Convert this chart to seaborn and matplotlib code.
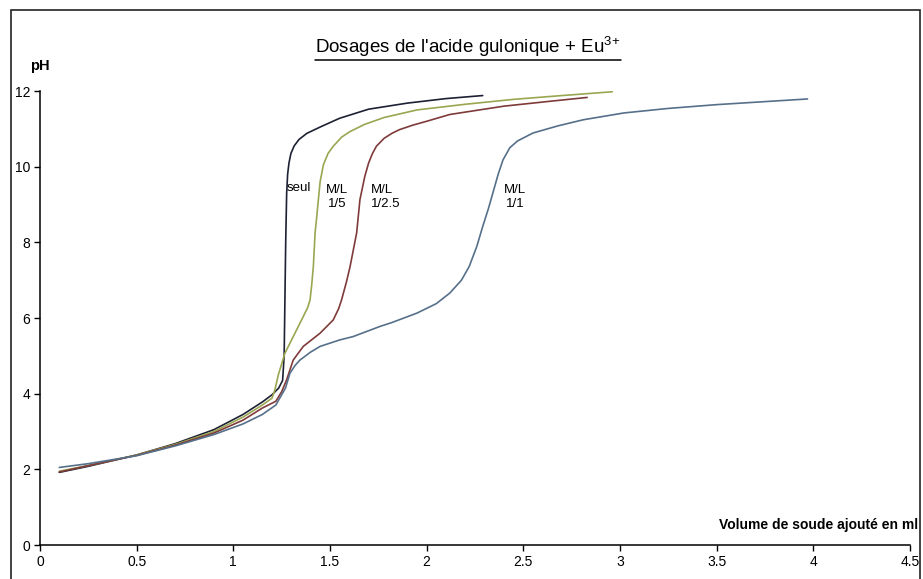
import seaborn as sns
import matplotlib.pyplot as plt
import matplotlib.lines as mlines
import matplotlib.patches as mpatches
import pandas as pd
from matplotlib.ticker import FuncFormatter

# Courbes de dosage (volume de soude en ml, pH)
vol_seul = [0.10, 0.25, 0.50, 0.70, 0.90, 1.05, 1.15, 1.20, 1.235, 1.255, 1.263, 1.267, 1.271, 1.276,
            1.281, 1.288, 1.298, 1.315, 1.34, 1.38, 1.45, 1.55, 1.70, 1.90, 2.10, 2.29]
ph_seul = [1.92, 2.08, 2.38, 2.68, 3.05, 3.45, 3.78, 3.97, 4.15, 4.35, 5.0, 6.5, 8.0, 9.3,
           9.8, 10.1, 10.35, 10.55, 10.72, 10.88, 11.05, 11.28, 11.52, 11.68, 11.80, 11.88]

vol_15 = [0.10, 0.25, 0.50, 0.70, 0.90, 1.05, 1.15, 1.20, 1.215, 1.233, 1.267, 1.319, 1.362,
          1.385, 1.397, 1.405, 1.414, 1.423, 1.432, 1.44, 1.449, 1.466, 1.49, 1.517, 1.56,
          1.604, 1.68, 1.78, 1.95, 2.20, 2.45, 2.70, 2.96]
ph_15 = [1.95, 2.10, 2.38, 2.66, 3.00, 3.38, 3.70, 3.88, 4.10, 4.50, 5.07, 5.60, 6.04,
         6.28, 6.48, 6.85, 7.36, 8.25, 8.70, 9.13, 9.60, 10.05, 10.35, 10.54, 10.78,
         10.93, 11.12, 11.30, 11.50, 11.65, 11.78, 11.88, 11.98]

vol_25 = [0.10, 0.25, 0.50, 0.70, 0.90, 1.05, 1.15, 1.22, 1.25, 1.276, 1.31, 1.362, 1.449,
          1.517, 1.545, 1.56, 1.585, 1.604, 1.638, 1.655, 1.68, 1.70, 1.72, 1.74, 1.78, 1.82,
          1.86, 1.93, 2.00, 2.12, 2.40, 2.64, 2.83]
ph_25 = [1.93, 2.10, 2.37, 2.64, 2.96, 3.30, 3.62, 3.80, 4.05, 4.37, 4.89, 5.25, 5.60,
         5.95, 6.25, 6.48, 6.95, 7.36, 8.25, 9.13, 9.74, 10.10, 10.35, 10.54, 10.75, 10.88,
         10.98, 11.10, 11.20, 11.38, 11.60, 11.73, 11.83]

vol_11 = [0.10, 0.25, 0.50, 0.70, 0.90, 1.05, 1.15, 1.22, 1.27, 1.293, 1.32, 1.345, 1.40,
          1.449, 1.55, 1.62, 1.76, 1.82, 1.95, 2.05, 2.12, 2.18, 2.22, 2.26, 2.29, 2.32,
          2.345, 2.37, 2.395, 2.43, 2.47, 2.55, 2.68, 2.81, 3.02, 3.25, 3.50, 3.75, 3.97]
ph_11 = [2.05, 2.15, 2.36, 2.62, 2.92, 3.20, 3.45, 3.70, 4.15, 4.54, 4.75, 4.89, 5.10,
         5.25, 5.42, 5.51, 5.78, 5.88, 6.13, 6.38, 6.66, 7.00, 7.36, 7.90, 8.42, 8.90,
         9.35, 9.80, 10.18, 10.50, 10.68, 10.89, 11.08, 11.24, 11.42, 11.54, 11.64, 11.72, 11.79]

series = ['seul', 'M/L 1/5', 'M/L 1/2.5', 'M/L 1/1']
couleurs = ['#1c2133', '#9aa650', '#7e3b3a', '#56708a']

df = pd.concat([
    pd.DataFrame({'vol': v, 'ph': p, 'serie': s})
    for v, p, s in zip([vol_seul, vol_15, vol_25, vol_11], [ph_seul, ph_15, ph_25, ph_11], series)
])

sns.set_style('white')
plt.rcParams['font.family'] = ['Liberation Sans', 'DejaVu Sans']
plt.rcParams['mathtext.default'] = 'regular'
plt.rcParams['text.color'] = 'black'

fig = plt.figure(figsize=(9.23, 5.79), dpi=100)
ax = fig.add_axes([0.0433, 0.0587, 0.9426, 0.7841])

sns.lineplot(data=df, x='vol', y='ph', hue='serie', palette=dict(zip(series, couleurs)),
             sort=False, estimator=None, linewidth=1.2, legend=False, ax=ax)

ax.set_xlim(0, 4.5)
ax.set_ylim(0, 12)
ax.set_xticks([i * 0.5 for i in range(10)])
ax.set_yticks(range(0, 13, 2))
ax.xaxis.set_major_formatter(FuncFormatter(lambda v, p: '%g' % v))
ax.tick_params(left=True, bottom=True, direction='out', length=4, width=1, color='black',
               labelcolor='black', labelsize=10, pad=3)
ax.set_xlabel('')
ax.set_ylabel('')
for s in ['top', 'right']:
    ax.spines[s].set_visible(False)
for s in ['left', 'bottom']:
    ax.spines[s].set_color('black')
    ax.spines[s].set_linewidth(1.1)

# étiquettes des courbes
fs = 9.5
ax.text(1.278, 9.44, 'seul', fontsize=fs, va='center', ha='left')
ax.text(1.535, 9.19, 'M/L\n1/5', fontsize=fs, va='center', ha='center', multialignment='center', linespacing=1.25)
ax.text(1.712, 9.19, 'M/L\n1/2.5', fontsize=fs, va='center', ha='left', linespacing=1.25)
ax.text(2.40, 9.19, 'M/L\n1/1', fontsize=fs, va='center', ha='left', multialignment='center', linespacing=1.25)

ax.text(0.0, 1.055, 'pH', transform=ax.transAxes, fontsize=10.5, fontweight='bold', ha='center', va='center')
ax.text(1.009, 0.044, 'Volume de soude ajouté en ml', transform=ax.transAxes, fontsize=10,
        fontweight='bold', ha='right', va='center')
titre = ax.text(0.492, 1.097, "Dosages de l'acide gulonique + Eu$^{3{+}}$", transform=ax.transAxes,
                fontsize=13.5, ha='center', va='center')

# soulignement du titre
fig.canvas.draw()
bb = titre.get_window_extent().transformed(fig.transFigure.inverted())
fig.add_artist(mlines.Line2D([bb.x0, bb.x1], [bb.y0 - 0.002, bb.y0 - 0.002], color='black', lw=1.1))

# cadre extérieur
fig.add_artist(mpatches.Rectangle((11 / 923, -0.05), (920 - 11) / 923, 1.05 - 10 / 579,
                                  fill=False, edgecolor='#222222', lw=1.2, transform=fig.transFigure))

fig.savefig('out.png', dpi=100)
